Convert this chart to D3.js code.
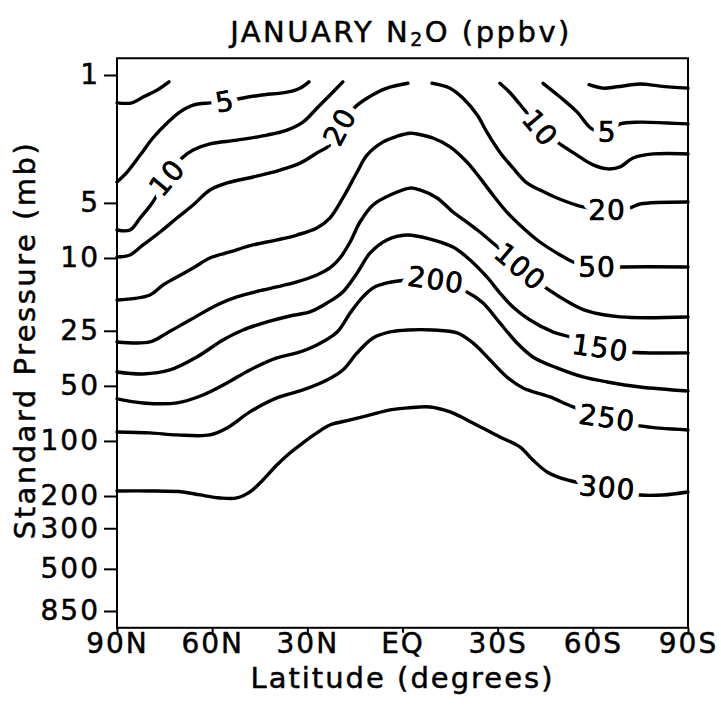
<!DOCTYPE html>
<html>
<head>
<meta charset="utf-8">
<script src="https://cdn.jsdelivr.net/npm/d3@7"></script>
<style>
  body { margin: 0; background: #fff; }
  text { font-family: "DejaVu Sans", sans-serif; fill: #000; }
  .ink { stroke: #000; stroke-width: 0.5px; }
</style>
</head>
<body>
<div id="chart"></div>
<script>
// axis ticks
const latTicks = [90, 60, 30, 0, -30, -60, -90];
const latLabels = ["90N", "60N", "30N", "EQ", "30S", "60S", "90S"];
const pTicks = [1, 5, 10, 25, 50, 100, 200, 300, 500, 850];

// contour lines, [latitude, pressure mb]
// unlabeled top contours
const cTopN = [[90,1.42],[85.3,1.42],[81.8,1.32],[77.4,1.21],[73.6,1.09]];
const cTopS = [[-58.8,1.13],[-63.2,1.18],[-67.6,1.16],[-74.9,1.12],[-81.2,1.15],[-90,1.18]];
// 5 ppbv
const c5N = [[90,3.84],[86.8,3.39],[82.7,2.74],[78.7,2.21],[74.2,1.83],[70.1,1.59],[66,1.46],[60.7,1.42],[56,1.40],[50.6,1.34],[44.9,1.29],[36.4,1.24],[32.3,1.18],[29.5,1.09]];
const c5S = [[-44.3,1.11],[-49.7,1.32],[-55,1.59],[-59.7,1.97],[-64.5,2.06],[-68.6,1.85],[-74.9,1.81],[-83.4,1.83],[-90,1.85]];
// 10 ppbv
const c10N = [[90,7.03],[85.9,7.03],[82.7,6.05],[78.7,4.94],[74.2,3.65],[69.5,2.84],[66,2.57],[60.7,2.38],[52.2,2.27],[42.7,2.13],[36.4,2.0],[31.4,1.81],[27,1.52],[22.9,1.29],[18.8,1.09]];
const c10S = [[-30.7,1.11],[-33.9,1.25],[-39.2,1.61],[-43.3,1.95],[-48.7,2.32],[-55,2.74],[-60.1,3.10],[-64.8,3.26],[-68.6,3.18],[-72.7,2.84],[-79,2.70],[-90,2.70]];
// 20 ppbv (broken at the top of the domain)
const c20N = [[90,9.87],[85.9,9.63],[81.8,8.49],[76.4,7.21],[71.1,6.05],[66,5.13],[60.7,4.25],[55.3,3.89],[47.1,3.61],[38.6,3.31],[32.3,3.03],[27,2.67],[22.9,2.41],[19.7,1.92],[15,1.50],[11.2,1.34],[4.9,1.18],[-1.7,1.11]];
const c20S = [[-9.3,1.11],[-15,1.18],[-19.1,1.34],[-23.5,1.65],[-26.6,2.05],[-30.7,2.64],[-34.8,3.22],[-39.2,3.89],[-43.3,4.25],[-48.7,4.70],[-56.9,5.26],[-64.5,5.47],[-71.7,5.33],[-74.9,5.07],[-90,4.94]];
// 50 ppbv
const c50 = [[90,16.96],[79.6,15.93],[75.5,14.05],[71.1,12.71],[66,11.34],[60.7,10.0],[54.4,9.27],[47.1,8.49],[39.6,7.97],[33.3,7.49],[27,6.86],[22.9,6.05],[18.8,4.70],[14.3,3.39],[11.2,2.74],[6.1,2.32],[1.7,2.16],[-2.4,2.08],[-4.6,2.10],[-9.6,2.21],[-15,2.47],[-20.3,2.99],[-24.4,3.65],[-28.5,4.53],[-32.9,5.61],[-37,6.60],[-43.3,8.18],[-49.7,9.63],[-53.8,10.52],[-61.3,11.34],[-69.5,11.2],[-90,11.2]];
// 100 ppbv
const c100 = [[90,28.77],[79.6,28.77],[74.2,25.67],[67,21.83],[58.5,18.06],[52.2,16.33],[44,14.96],[39.6,14.40],[33.3,13.52],[27,12.39],[22.9,11.34],[19.7,10.0],[16.5,8.18],[13.4,6.36],[9.3,5.13],[3.9,4.53],[-2.4,4.15],[-5.5,4.25],[-10.9,4.70],[-15.9,5.61],[-20.3,6.36],[-24.4,7.21],[-28.5,8.28],[-30.7,8.93],[-37,11.34],[-44.3,14.22],[-52.8,17.62],[-58.2,19.48],[-68.6,21.0],[-90,21.0]];
// 150 ppbv
const c150 = [[90,41.98],[81.8,43.03],[73.3,40.93],[64.8,34.75],[56.6,28.06],[50.3,24.74],[42.7,22.38],[35.5,20.75],[29.2,19.73],[23.8,17.62],[18.8,15.34],[14.3,12.08],[10.2,9.39],[4.9,7.97],[-1.4,7.49],[-8.7,7.88],[-15.9,8.71],[-21.3,10.25],[-26.6,12.70],[-30.7,15.54],[-34.8,18.52],[-40.2,21.83],[-47.4,25.37],[-52.8,27.03],[-62.3,31.03],[-70.8,32.64],[-90,33.03]];
// 200 ppbv
const c200 = [[90,58.93],[81.8,61.98],[71.1,61.98],[62.9,56.06],[55.3,48.2],[48.1,40.93],[39.6,35.19],[33.3,33.03],[27,29.88],[20.6,25.37],[16.5,19.98],[12.5,16.33],[9.3,14.58],[4.9,13.69],[-1.8,13.19],[-9.6,13.19],[-20.3,15.34],[-25.4,17.62],[-30.7,22.66],[-36.1,29.13],[-41.1,34.75],[-48.7,39.91],[-56.9,44.70],[-64.5,47.6],[-74.9,50.7],[-90,53.32]];
// 250 ppbv
const c250 = [[90,89.3],[79.6,90.4],[71.1,92.7],[60.7,92.7],[55.3,84.9],[48.1,69.4],[39.6,58.2],[31.4,52.64],[23.8,46.42],[18.8,40.93],[14.3,33.03],[9.3,27.37],[3.9,25.37],[-1.7,24.74],[-9.6,24.74],[-17.2,25.67],[-22.2,29.13],[-27.6,36.08],[-32.9,44.70],[-38,51.33],[-46.5,57.48],[-53.8,65.2],[-64.5,74.85],[-74.9,82.8],[-90,87.1]];
// 300 ppbv
const c300 = [[90,187.6],[79.6,187.6],[69.2,190],[63.8,197.3],[57.5,204.9],[52.2,204.9],[48.1,190],[44,163.4],[39.6,135.3],[35.5,116.3],[31.4,102.5],[27,90.4],[22.9,81.8],[16.5,76.8],[10.2,72.1],[3.9,67.7],[-1.7,66.0],[-8.7,65.2],[-15,69.4],[-22.2,79.7],[-30.7,95.1],[-37,107.8],[-41.1,127.0],[-45.6,147.7],[-51.9,163.4],[-64.5,180.7],[-74.9,197.3],[-82.1,197.3],[-90,190]];

// in-line labels: [lat, pressure, text, angle]
const contourLabels = [
  [56, 1.40, "5", -10],
  [74.2, 3.65, "10", -50],
  [19.7, 1.92, "20", -62],
  [-43.3, 1.95, "10", 50],
  [-64.5, 2.06, "5", 0],
  [-64.5, 5.47, "20", 0],
  [-61.3, 11.34, "50", 0],
  [-37, 11.2, "100", 40],
  [-10.5, 13.19, "200", 8],
  [-62.3, 31.03, "150", 8],
  [-64.5, 74.85, "250", 8],
  [-64.5, 180.7, "300", 5]
];

const pieces = [cTopN, cTopS, c5N, c5S, c10N, c10S, c20N, c20S, c50, c100, c150, c200, c250, c300];

const W = 721, H = 709;
const svg = d3.select("#chart").append("svg")
  .attr("width", W)
  .attr("height", H);

const x = d3.scaleLinear().domain([90, -90]).range([117, 688]);
const y = d3.scaleLog().domain([1, 850]).range([75, 611]);
const pTop = 0.81, pBottom = 1050;

const line = d3.line()
  .x(d => x(d[0]))
  .y(d => y(d[1]))
  .curve(d3.curveCatmullRom.alpha(0.5));

// contours
svg.append("g")
  .selectAll("path")
  .data(pieces)
  .enter()
  .append("path")
  .attr("d", line)
  .attr("fill", "none")
  .attr("stroke", "#000")
  .attr("stroke-width", 3.4)
  .attr("stroke-linecap", "round")
  .attr("stroke-linejoin", "round");

// contour labels, white halo cuts the line
svg.append("g")
  .selectAll("text")
  .data(contourLabels)
  .enter()
  .append("text")
  .attr("transform", d => `translate(${x(d[0])},${y(d[1])}) rotate(${d[3]})`)
  .attr("text-anchor", "middle")
  .attr("dominant-baseline", "central")
  .style("font-size", "28px")
  .style("letter-spacing", "1px")
  .style("paint-order", "stroke")
  .attr("stroke", "#fff")
  .attr("stroke-width", 14)
  .attr("stroke-linejoin", "round")
  .text(d => d[2]);

// second pass so the digits keep their ink weight over the halo
svg.append("g")
  .selectAll("text")
  .data(contourLabels)
  .enter()
  .append("text")
  .attr("class", "ink")
  .attr("transform", d => `translate(${x(d[0])},${y(d[1])}) rotate(${d[3]})`)
  .attr("text-anchor", "middle")
  .attr("dominant-baseline", "central")
  .style("font-size", "28px")
  .style("letter-spacing", "1px")
  .text(d => d[2]);

// frame
svg.append("rect")
  .attr("x", x(90))
  .attr("y", y(pTop))
  .attr("width", x(-90) - x(90))
  .attr("height", y(pBottom) - y(pTop))
  .attr("fill", "none")
  .attr("stroke", "#000")
  .attr("stroke-width", 2);

// Y axis
const yAxis = svg.append("g")
  .attr("transform", `translate(${x(90)},0)`)
  .call(d3.axisLeft(y).tickValues(pTicks).tickSize(13).tickPadding(4).tickFormat(d3.format("d")));
yAxis.select(".domain").remove();
yAxis.selectAll("line").attr("stroke-width", 2);
yAxis.selectAll("text")
  .attr("class", "ink")
  .style("font-size", "28px")
  .style("letter-spacing", "2px");

// X axis
const xAxis = svg.append("g")
  .attr("transform", `translate(0,${y(pBottom)})`)
  .call(d3.axisBottom(x).tickValues(latTicks).tickSize(5).tickPadding(0).tickFormat((d, i) => latLabels[i]));
xAxis.select(".domain").remove();
xAxis.selectAll("line").attr("stroke-width", 2);
xAxis.selectAll("text")
  .attr("class", "ink")
  .style("font-size", "28px")
  .style("letter-spacing", "2px");

// Title
const title = svg.append("text")
  .attr("class", "ink")
  .attr("x", 401)
  .attr("y", 42)
  .attr("text-anchor", "middle")
  .style("font-size", "29px")
  .style("letter-spacing", "2.5px");
title.append("tspan").text("JANUARY N");
title.append("tspan").attr("dy", 4).style("font-size", "19px").text("2");
title.append("tspan").attr("dy", -4).text("O (ppbv)");

// Label X
svg.append("text")
  .attr("class", "ink")
  .attr("x", (x(90) + x(-90)) / 2)
  .attr("y", 688)
  .attr("text-anchor", "middle")
  .style("font-size", "29px")
  .style("letter-spacing", "2px")
  .text("Latitude (degrees)");

// Label Y
svg.append("text")
  .attr("class", "ink")
  .attr("transform", "translate(35,340) rotate(-90)")
  .attr("text-anchor", "middle")
  .style("font-size", "29px")
  .style("letter-spacing", "2.5px")
  .text("Standard Pressure (mb)");
</script>
</body>
</html>
